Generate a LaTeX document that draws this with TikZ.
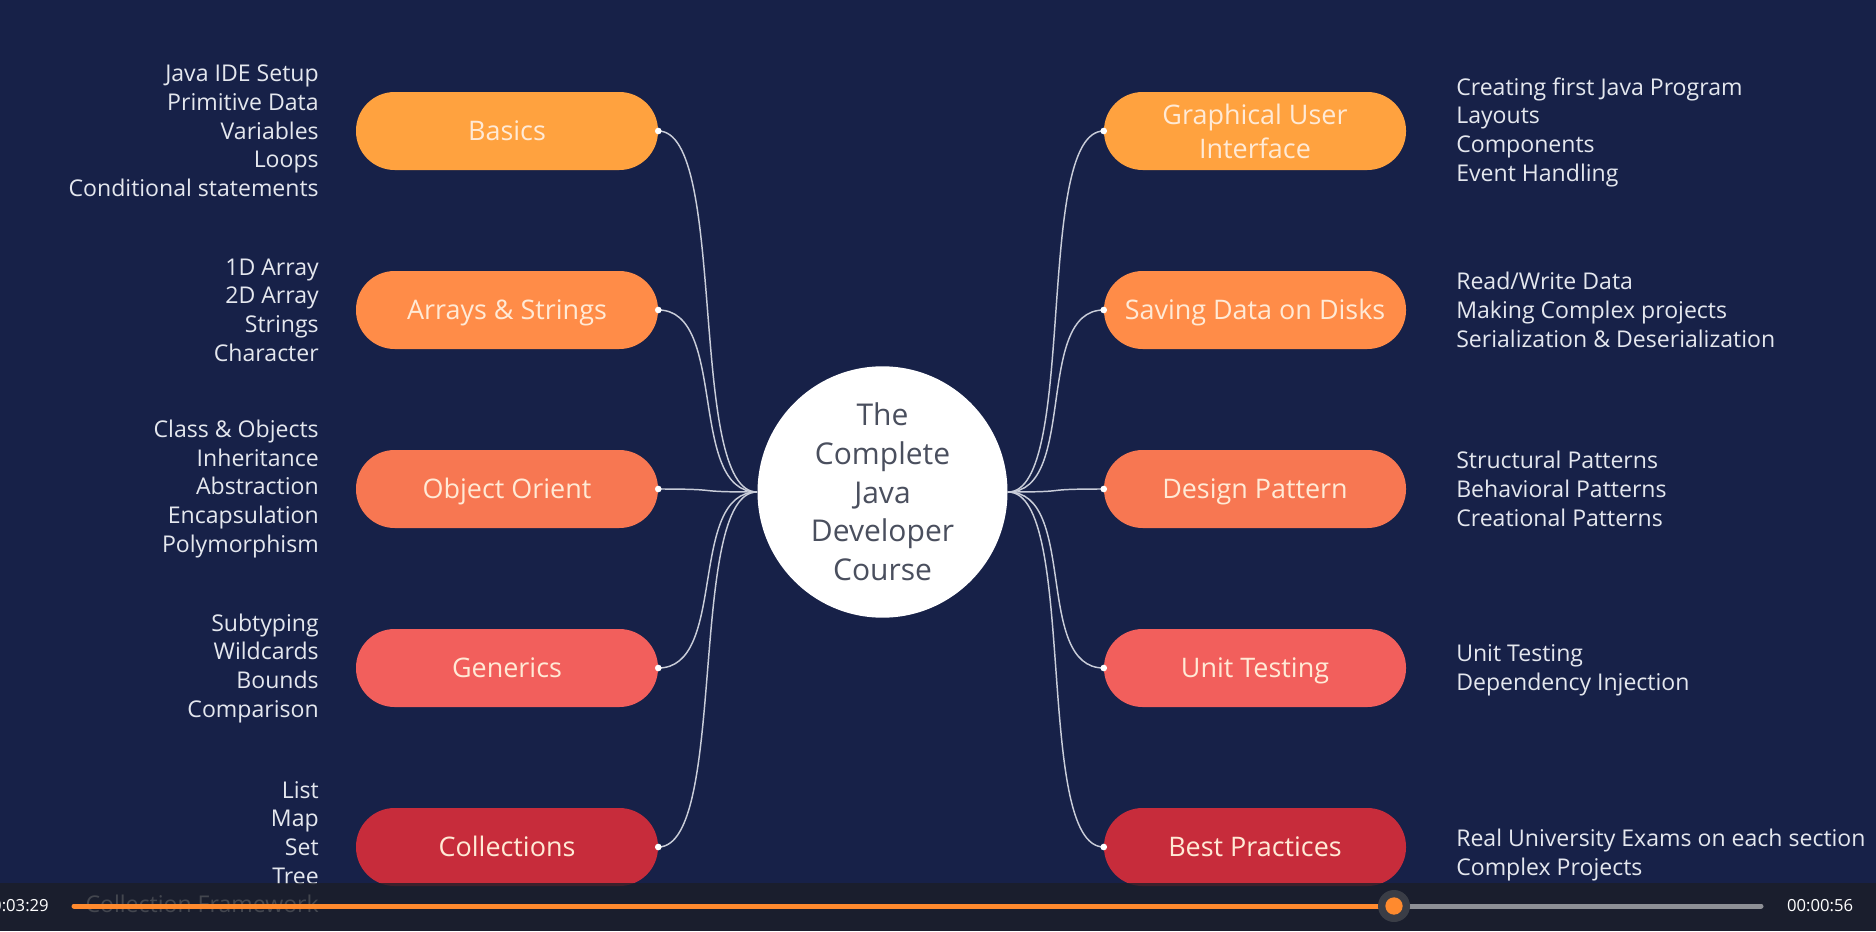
\documentclass[tikz,border=0pt]{standalone}
\usepackage{fontspec}
\setmainfont{Open Sans}
\usetikzlibrary{shapes.geometric}
\definecolor{bgc}{HTML}{172148}
\definecolor{barc}{HTML}{1B1E27}
\definecolor{pa}{HTML}{FFA23F}
\definecolor{pb}{HTML}{FF8C48}
\definecolor{pc}{HTML}{F77752}
\definecolor{pd}{HTML}{F25F5C}
\definecolor{pe}{HTML}{C72C3B}
\definecolor{pilltext}{HTML}{FFEAD6}
\definecolor{sidec}{HTML}{E4E7EE}
\definecolor{linec}{HTML}{C9CDD9}
\definecolor{centertext}{HTML}{4A4F5E}
\definecolor{progo}{HTML}{FF8A2E}
\definecolor{progg}{HTML}{8E9096}
\definecolor{knobhalo}{HTML}{3A3D46}
\tikzset{
  pillbase/.style={rectangle, rounded corners=29pt, minimum width=226.5pt, minimum height=58.5pt,
    text=pilltext, align=center, font=\fontsize{20.2}{25.5}\selectfont, inner sep=0pt},
  pill/.style={pillbase, text height=19.4pt, text depth=5pt},
  lefttext/.style={anchor=east, align=right, text=sidec, font=\fontsize{17.3}{21.5}\selectfont, inner sep=0pt},
  righttext/.style={anchor=west, align=left, text=sidec, font=\fontsize{17.3}{21.5}\selectfont, inner sep=0pt},
  conn/.style={draw=linec, line width=1.1pt},
  enddot/.style={circle, fill=white, inner sep=0pt, minimum size=5pt},
  timetext/.style={text=white, font=\fontsize{12.5}{15}\selectfont, inner sep=0pt}
}
\begin{document}
\begin{tikzpicture}[x=0.75pt,y=-0.75pt]
\fill[bgc] (0,0) rectangle (1876,931);
\useasboundingbox (0,0) rectangle (1876,931);

% center
\node[ellipse, fill=white, minimum width=187.5pt, minimum height=180pt, inner sep=0pt,
  text=centertext, align=center, font=\fontsize{22.5}{29}\selectfont] (core) at (882.5,492)
  {The\\Complete\\Java\\Developer\\Course};
\coordinate (cL) at (757,492);
\coordinate (cR) at (1008,492);

% left pills
\node[pill, fill=pa] (basics) at (507,131) {Basics};
\node[pill, fill=pb] (arrays) at (507,310) {Arrays \& Strings};
\node[pill, fill=pc] (oop) at (507,489) {Object Orient};
\node[pill, fill=pd] (generics) at (507,668) {Generics};
\node[pill, fill=pe] (coll) at (507,847) {Collections};

% right pills
\node[pillbase, fill=pa] (gui) at (1255,131) {Graphical User\\Interface};
\node[pill, fill=pb] (saving) at (1255,310) {Saving Data on Disks};
\node[pill, fill=pc] (design) at (1255,489) {Design Pattern};
\node[pill, fill=pd] (unit) at (1255,668) {Unit Testing};
\node[pill, fill=pe] (best) at (1255,847) {Best Practices};

% connectors
\foreach \n in {basics,arrays,oop,generics,coll}{
  \draw[conn] (\n.east) .. controls +(70,0) and +(-70,0) .. (cL);
  \node[enddot] at (\n.east) {};
}
\foreach \n in {gui,saving,design,unit,best}{
  \draw[conn] (\n.west) .. controls +(-70,0) and +(70,0) .. (cR);
  \node[enddot] at (\n.west) {};
}

% left side texts
\node[lefttext] (tbasics) at (319,131) {Java IDE Setup\\Primitive Data\\Variables\\Loops\\Conditional statements};
\node[lefttext] (tarrays) at (319,310) {1D Array\\2D Array\\Strings\\Character};
\node[lefttext] (toop) at (319,489) {Class \& Objects\\Inheritance\\Abstraction\\Encapsulation\\Polymorphism};
\node[lefttext] (tgen) at (319,668) {Subtyping\\Wildcards\\Bounds\\Comparison};
\node[lefttext] (tcoll) at (319,847) {List\\Map\\Set\\Tree\\Collection Framework};

% right side texts
\node[righttext] (tgui) at (1456,132) {Creating first Java Program\\Layouts\\Components\\Event Handling};
\node[righttext] (tsave) at (1456,310) {Read/Write Data\\Making Complex projects\\Serialization \& Deserialization};
\node[righttext] (tdes) at (1456,489) {Structural Patterns\\Behavioral Patterns\\Creational Patterns};
\node[righttext] (tunit) at (1456,670) {Unit Testing\\Dependency Injection};
\node[righttext] (tbest) at (1456,855) {Real University Exams on each section\\Complex Projects};

% player bar
\fill[barc, opacity=0.8] (0,883) rectangle (1876,931);
\coordinate (ps) at (74,906);
\coordinate (pk) at (1394,906);
\coordinate (pe) at (1761,906);
\draw[progg, line width=3.75pt, line cap=round] (pk) -- (pe);
\draw[progo, line width=3.75pt, line cap=round] (ps) -- (pk);
\node[circle, fill=knobhalo, minimum size=24pt, inner sep=0pt] (knobh) at (pk) {};
\node[circle, fill=progo, minimum size=13pt, inner sep=0pt] (knob) at (pk) {};
\node[timetext, anchor=east] (tleft) at (49,906) {00:03:29};
\node[timetext] (tright) at (1820,906) {00:00:56};
\end{tikzpicture}
\end{document}
